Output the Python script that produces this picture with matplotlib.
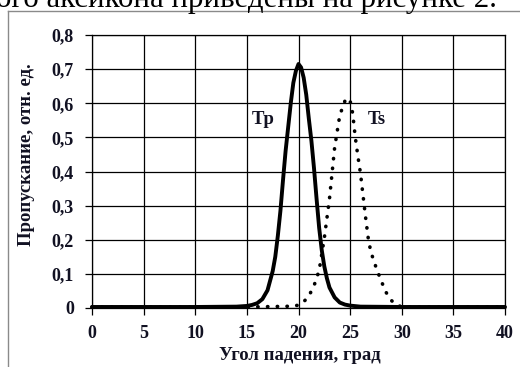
import matplotlib
matplotlib.use("Agg")
import matplotlib.pyplot as plt
from matplotlib.lines import Line2D

# ---- data ----
tp_angle = [0, 5, 10, 14, 15, 15.5, 16, 16.5, 17, 17.5, 17.75, 18, 18.25, 18.5, 18.75,
            19, 19.25, 19.5, 19.75, 20, 20.25, 20.5, 20.75, 21, 21.25, 21.5, 21.75,
            22, 22.25, 22.5, 22.75, 23, 23.5, 24, 24.5, 25, 26, 30, 35, 40]
tp_values = [0.003, 0.003, 0.003, 0.004, 0.006, 0.009, 0.014, 0.026, 0.052, 0.108, 0.15,
             0.212, 0.285, 0.375, 0.46, 0.53, 0.60, 0.66, 0.695, 0.715, 0.705, 0.675,
             0.625, 0.555, 0.49, 0.41, 0.32, 0.235, 0.17, 0.122, 0.087, 0.06, 0.031,
             0.016, 0.01, 0.007, 0.004, 0.003, 0.003, 0.003]

ts_angle = [0, 5, 10, 15, 17, 19, 20, 20.5, 21, 21.5, 22, 22.5, 23, 23.5, 24, 24.5,
            24.85, 25, 25.25, 25.5, 25.75, 26, 26.25, 26.5, 26.75, 27, 27.5, 28, 28.5,
            29, 29.5, 30, 31, 35, 40]
ts_values = [0.003, 0.003, 0.003, 0.003, 0.004, 0.005, 0.008, 0.018, 0.035, 0.065, 0.11,
             0.205, 0.32, 0.47, 0.565, 0.607, 0.615, 0.607, 0.57, 0.50, 0.445, 0.395,
             0.33, 0.265, 0.205, 0.165, 0.12, 0.08, 0.045, 0.022, 0.008, 0.004, 0.003,
             0.003, 0.003]

x_ticks = [0, 5, 10, 15, 20, 25, 30, 35, 40]
y_ticks = [0, 0.1, 0.2, 0.3, 0.4, 0.5, 0.6, 0.7, 0.8]
y_tick_labels = ["0", "0,1", "0,2", "0,3", "0,4", "0,5", "0,6", "0,7", "0,8"]
x_label = "Угол падения, град"
y_label = "Пропускание, отн. ед."
caption = "ого аксикона приведены на рисунке 2."

serif = ["Liberation Serif", "DejaVu Serif"]
plt.rcParams["font.family"] = serif
plt.rcParams["font.weight"] = "bold"
plt.rcParams["axes.labelweight"] = "bold"
ink = "#111122"

W, H = 520, 367
fig = plt.figure(figsize=(W / 100, H / 100), dpi=100)
fig.patch.set_facecolor("white")

# page frame lines (scanned document)
fig.add_artist(Line2D([8 / W, 8 / W], [0, 1 - 11 / H], color="#8a8a8a", lw=1.0))
fig.add_artist(Line2D([8 / W, 1], [1 - 11 / H, 1 - 11 / H], color="#8a8a8a", lw=1.0))

# caption text (cut off at the top of the image)
cap = fig.text(497 / W, 1 - 7.5 / H, caption, ha="right", va="baseline",
               fontweight="normal", fontsize=20, color="black")
fig.canvas.draw()
r = fig.canvas.get_renderer()
bb = cap.get_window_extent(r)
cap.set_fontsize(20 * (502 / bb.width))

ax = fig.add_axes([92 / W, 1 - 308 / H, (505 - 92) / W, (308 - 35) / H])
ax.set_xlim(0, 40)
ax.set_ylim(0, 0.8)
ax.set_xticks(x_ticks)
ax.set_xticklabels([str(v) for v in x_ticks])
ax.set_yticks(y_ticks)
ax.set_yticklabels(y_tick_labels)
ax.grid(True, color="black", lw=0.9)
ax.set_axisbelow(True)
for s in ax.spines.values():
    s.set_color("black")
    s.set_linewidth(0.9)
ax.tick_params(direction="out", length=5, width=0.9, color="black",
               labelsize=13, labelcolor=ink)
ax.tick_params(axis="y", pad=8)
ax.tick_params(axis="x", pad=7)

ax.plot(tp_angle, tp_values, color="black", lw=2.8, solid_capstyle="round",
        solid_joinstyle="round", clip_on=False, zorder=3)
ax.plot(ts_angle, ts_values, color="black", lw=2.6, linestyle=(0, (0.1, 2.6)),
        dash_capstyle="round", clip_on=False, zorder=3)

ax.text(16.6, 0.551, "Tp", fontweight="bold", fontsize=13.5,
        ha="center", va="center", color=ink)
ax.text(27.6, 0.551, "Ts", fontweight="bold", fontsize=13.5,
        ha="center", va="center", color=ink)

ax.set_xlabel(x_label, fontsize=13.5, color=ink)
ax.set_ylabel(y_label, fontsize=13.5, color=ink)
ax.xaxis.set_label_coords(300 / W, 1 - 355 / H, transform=fig.transFigure)
ax.yaxis.set_label_coords(27 / W, 1 - 155 / H, transform=fig.transFigure)
ax.xaxis.label.set_va("center")
ax.yaxis.label.set_va("center")

fig.savefig("out.png", dpi=100)
